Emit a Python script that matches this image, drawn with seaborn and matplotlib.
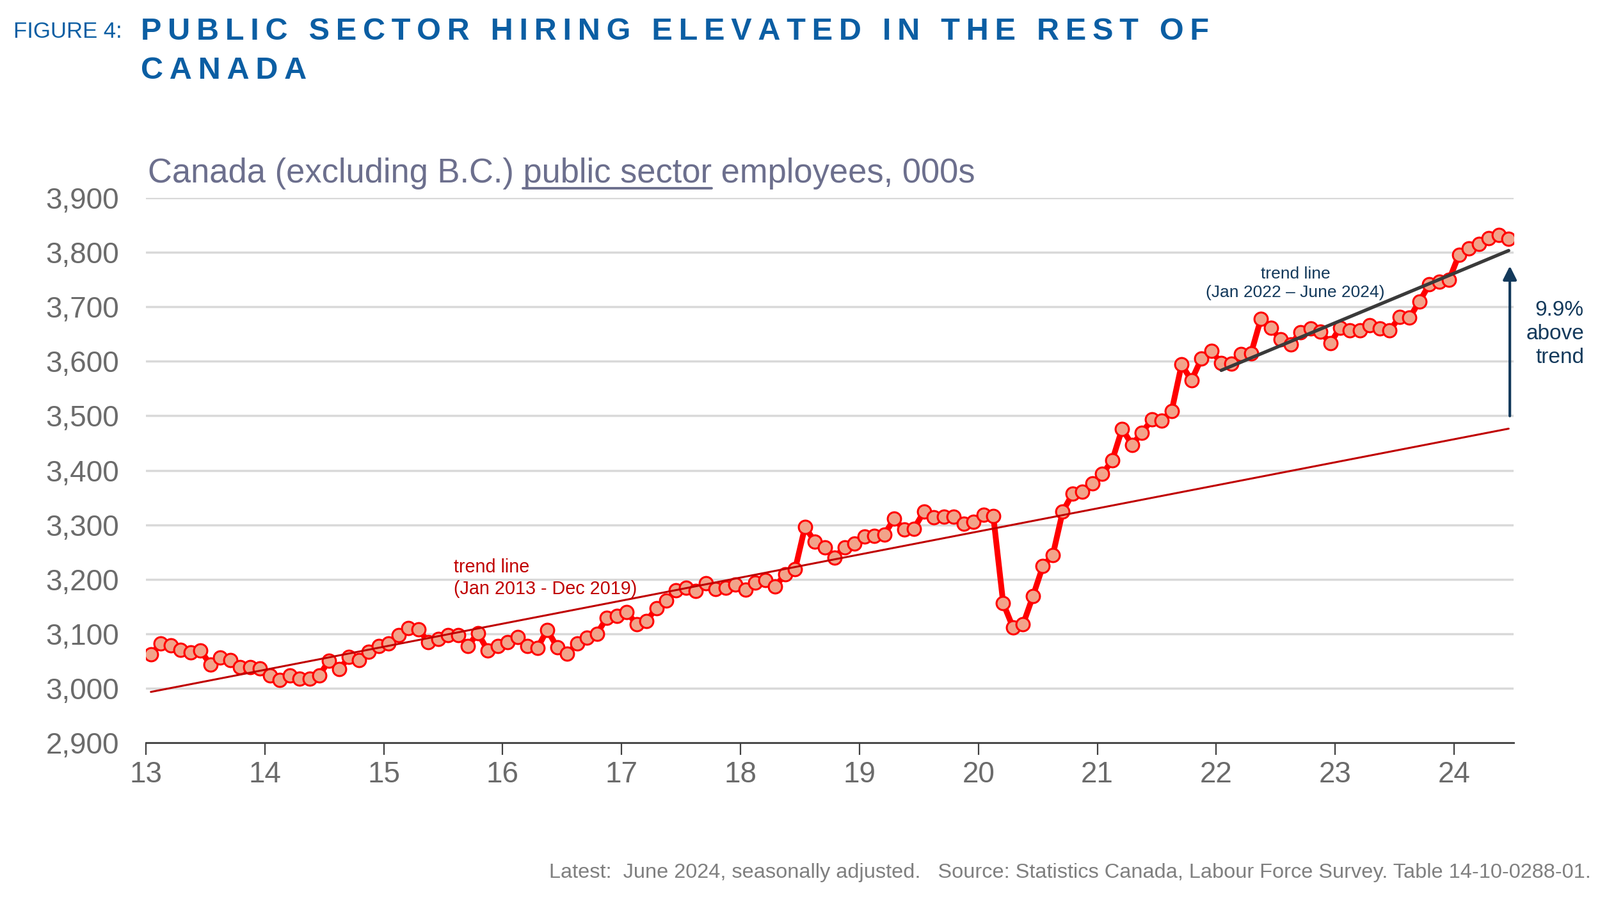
# %%
import matplotlib.pyplot as plt
import numpy as np
import pandas as pd
import seaborn as sns

# monthly public sector employees (000s), Canada excluding B.C., Jan 2013 - Jun 2024
emp_2013 = [3062, 3082, 3079, 3071, 3066, 3069, 3044, 3056, 3052, 3039, 3039, 3036]
emp_2014 = [3023, 3015, 3023, 3018, 3018, 3024, 3051, 3035, 3057, 3052, 3067, 3078]
emp_2015 = [3082, 3097, 3110, 3108, 3085, 3091, 3098, 3097, 3078, 3101, 3069, 3078]
emp_2016 = [3085, 3094, 3078, 3074, 3107, 3075, 3063, 3082, 3093, 3100, 3129, 3133]
emp_2017 = [3140, 3118, 3123, 3147, 3161, 3180, 3184, 3178, 3193, 3182, 3184, 3190]
emp_2018 = [3181, 3194, 3199, 3187, 3209, 3218, 3296, 3269, 3258, 3240, 3259, 3265]
emp_2019 = [3278, 3280, 3282, 3311, 3291, 3293, 3324, 3314, 3315, 3315, 3302, 3305]
emp_2020 = [3318, 3316, 3156, 3111, 3117, 3169, 3224, 3244, 3324, 3357, 3361, 3376]
emp_2021 = [3393, 3418, 3476, 3447, 3469, 3493, 3491, 3509, 3594, 3565, 3605, 3619]
emp_2022 = [3597, 3596, 3613, 3614, 3678, 3661, 3640, 3631, 3653, 3660, 3655, 3633]
emp_2023 = [3662, 3657, 3657, 3666, 3660, 3657, 3681, 3680, 3710, 3741, 3746, 3750]
emp_2024 = [3796, 3807, 3816, 3826, 3832, 3825]

year_ticks = list(range(2013, 2025))
year_labels = ["13", "14", "15", "16", "17", "18", "19", "20", "21", "22", "23", "24"]
y_ticks = list(range(2900, 4000, 100))

# %%
values = np.array(emp_2013 + emp_2014 + emp_2015 + emp_2016 + emp_2017 + emp_2018
                  + emp_2019 + emp_2020 + emp_2021 + emp_2022 + emp_2023 + emp_2024)
# points sit in the middle of each month
t = 2013 + (np.arange(len(values)) + 0.5) / 12
df = pd.DataFrame({"t": t, "employees": values})

BLUE = "#0B5EA3"
NAVY = "#13395B"
GREY = "#6B6B6B"
DARKRED = "#C00000"

sns.set_theme(style="white")
plt.rcParams["font.family"] = ["Liberation Sans", "DejaVu Sans"]

fig = plt.figure(figsize=(25, 14.26), dpi=100, facecolor="white")
ax = fig.add_axes([0.0912, 0.1865, 0.8548, 0.5968])

sns.lineplot(data=df, x="t", y="employees", ax=ax, color="#FF0000", lw=6.5,
             marker="o", markersize=15, markerfacecolor="#F2A38A",
             markeredgecolor="#FF0000", markeredgewidth=2.2, zorder=3)

# trend lines fitted on the two periods
pre = df[df["t"] < 2020]
fit_pre = np.polyfit(pre["t"], pre["employees"], 1)
ax.plot(df["t"], np.polyval(fit_pre, df["t"]), color=DARKRED, lw=2.2, zorder=4)

post = df[df["t"] > 2022]
fit_post = np.polyfit(post["t"], post["employees"], 1)
ax.plot(post["t"], np.polyval(fit_post, post["t"]), color="#3A3A3A", lw=3.8, zorder=4)

# arrow from old trend up to the new trend
x_end = df["t"].iloc[-1]
red_end = np.polyval(fit_pre, x_end)
grey_end = np.polyval(fit_post, x_end)
ax.annotate("", xy=(x_end + 0.01, grey_end - 25), xytext=(x_end + 0.01, red_end + 20),
            arrowprops=dict(arrowstyle="-|>", color=NAVY, lw=3, mutation_scale=32),
            annotation_clip=False, zorder=5)

ax.text(2015.59, 3202, "trend line\n(Jan 2013 - Dec 2019)", color=DARKRED,
        fontsize=20.7, ha="left", va="center", linespacing=1.25)
ax.text(2022.665, 3743, "trend line\n(Jan 2022 \u2013 June 2024)", color=NAVY,
        fontsize=19, ha="center", va="center", linespacing=1.25)
fig.text(0.990, 0.6346, "9.9%\nabove\ntrend", color=NAVY, fontsize=24,
         ha="right", va="center", linespacing=1.25)

# axes styling
ax.set_xlim(2013, 2024.5)
ax.set_ylim(2900, 3900)
ax.set_xticks(year_ticks)
ax.set_xticklabels(year_labels)
ax.set_yticks(y_ticks)
ax.set_yticklabels([f"{v:,}" for v in y_ticks])
ax.set_xlabel("")
ax.set_ylabel("")
ax.yaxis.grid(True, color="#D9D9D9", lw=2.5)
ax.xaxis.grid(False)
ax.set_axisbelow(True)
for side in ["left", "right", "top"]:
    ax.spines[side].set_visible(False)
ax.spines["bottom"].set_color("#404040")
ax.spines["bottom"].set_linewidth(2)
ax.tick_params(axis="x", direction="out", length=14, width=1.6, color="#404040",
               labelsize=33, labelcolor=GREY, pad=6, bottom=True)
ax.tick_params(axis="y", length=0, labelsize=33, labelcolor=GREY, pad=30)

# titles
def spaced(s):
    return "\u2009".join(s)

fig.text(0.0084, 0.9655, "FIGURE 4:", color=BLUE, fontsize=25, ha="left", va="center")
fig.text(0.088, 0.9655, spaced("PUBLIC SECTOR HIRING ELEVATED IN THE REST OF"),
         color=BLUE, fontsize=35, fontweight="bold", ha="left", va="center")
fig.text(0.088, 0.9225, spaced("CANADA"), color=BLUE, fontsize=35,
         fontweight="bold", ha="left", va="center")

# subtitle with underlined "public sector"
SUB = "#6C6F8D"
SUB_SIZE = 37.8
sub_x, sub_y = 0.0924, 0.800
full_sub = "Canada (excluding B.C.) public sector employees, 000s"
fig.text(sub_x, sub_y, full_sub, color=SUB, fontsize=SUB_SIZE, ha="left", va="baseline")
fig.canvas.draw()
renderer = fig.canvas.get_renderer()


def text_width(s):
    tmp = fig.text(0, 0, s, fontsize=SUB_SIZE)
    w = tmp.get_window_extent(renderer).width
    tmp.remove()
    return w / fig.bbox.width


u_end = sub_x + text_width("Canada (excluding B.C.) public sector")
u_start = u_end - text_width("public sector")
fig.add_artist(plt.Line2D([u_start, u_end], [sub_y - 0.006, sub_y - 0.006],
                          color=SUB, lw=2.8, transform=fig.transFigure))

fig.text(0.9945, 0.044,
         "Latest:  June 2024, seasonally adjusted.   Source: Statistics Canada, "
         "Labour Force Survey. Table 14-10-0288-01.",
         color="#7F7F7F", fontsize=23.4, ha="right", va="center")

fig.savefig("out.png", dpi=100, facecolor="white")
